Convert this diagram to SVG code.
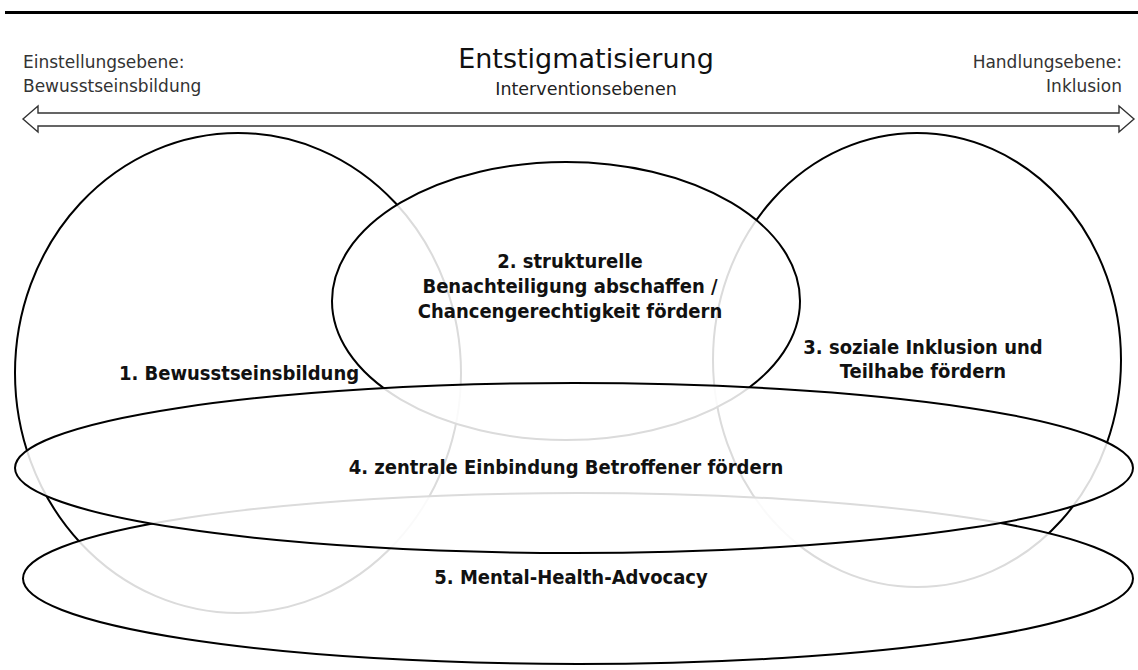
<svg xmlns="http://www.w3.org/2000/svg" width="1138" height="670" viewBox="0 0 1138 670">
  <style>
    .ring { fill: #ffffff; fill-opacity: 0.86; stroke: #000000; stroke-width: 2; }
    .lbl { font-family: "DejaVu Sans Condensed", "DejaVu Sans", sans-serif; font-stretch: condensed; font-weight: bold; font-size: 20px; fill: #111111; text-anchor: middle; }
    .side { font-family: "DejaVu Sans", "Liberation Sans", sans-serif; font-size: 17px; fill: #333333; }
    .title { font-family: "DejaVu Sans", "Liberation Sans", sans-serif; font-size: 27px; fill: #111111; text-anchor: middle; }
    .sub { font-family: "DejaVu Sans", "Liberation Sans", sans-serif; font-size: 17.5px; fill: #222222; text-anchor: middle; }
  </style>
  <rect width="1138" height="670" fill="#ffffff"/>

  <!-- header rule -->
  <line x1="5" y1="12.5" x2="1138" y2="12.5" stroke="#000000" stroke-width="3"/>

  <!-- header texts -->
  <g id="header">
    <text class="title" x="586" y="68">Entstigmatisierung</text>
    <text class="sub" x="586" y="95">Interventionsebenen</text>
    <text class="side" x="23" y="68">Einstellungsebene:</text>
    <text class="side" x="23" y="92">Bewusstseinsbildung</text>
    <text class="side" x="1122" y="68" text-anchor="end">Handlungsebene:</text>
    <text class="side" x="1122" y="92" text-anchor="end">Inklusion</text>
  </g>

  <!-- double-headed axis arrow -->
  <g id="connectors">
    <path d="M23,119 L38,106 L38,113 L1119,113 L1119,106 L1134,119 L1119,132 L1119,126 L38,126 L38,132 Z"
          fill="#ffffff" stroke="#333333" stroke-width="1.4" stroke-linejoin="miter"/>
  </g>

  <!-- intervention levels, back to front -->
  <g id="level1">
    <ellipse class="ring" cx="238" cy="373" rx="223" ry="240"/>
    <text class="lbl" x="239" y="380">1. Bewusstseinsbildung</text>
  </g>
  <g id="level3">
    <ellipse class="ring" cx="917" cy="360" rx="204" ry="227"/>
    <text class="lbl" x="923" y="354">3. soziale Inklusion und</text>
    <text class="lbl" x="923" y="378">Teilhabe fördern</text>
  </g>
  <g id="level2">
    <ellipse class="ring" cx="566" cy="301" rx="234" ry="139"/>
    <text class="lbl" x="570" y="268">2. strukturelle</text>
    <text class="lbl" x="570" y="293">Benachteiligung abschaffen /</text>
    <text class="lbl" x="570" y="318">Chancengerechtigkeit fördern</text>
  </g>
  <g id="level5">
    <ellipse class="ring" cx="578" cy="578.5" rx="555" ry="85.5"/>
    <text class="lbl" x="571" y="584">5. Mental-Health-Advocacy</text>
  </g>
  <g id="level4">
    <ellipse class="ring" cx="574" cy="468" rx="559" ry="85"/>
    <text class="lbl" x="566" y="474">4. zentrale Einbindung Betroffener fördern</text>
  </g>
</svg>
